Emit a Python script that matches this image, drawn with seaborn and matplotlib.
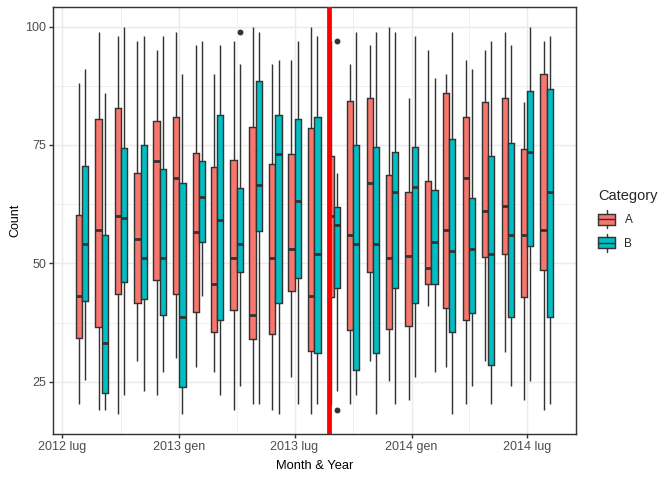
import pandas as pd
import matplotlib
matplotlib.use("Agg")
import matplotlib.pyplot as plt
import matplotlib.dates as mdates
from matplotlib.lines import Line2D
from matplotlib.patches import Patch, Rectangle
from matplotlib.legend_handler import HandlerBase
import seaborn as sns

# months (first day of each month)
months = ["2012-08", "2012-09", "2012-10", "2012-11", "2012-12",
          "2013-01", "2013-02", "2013-03", "2013-04", "2013-05", "2013-06",
          "2013-07", "2013-08", "2013-09", "2013-10", "2013-11", "2013-12",
          "2014-01", "2014-02", "2014-03", "2014-04", "2014-05", "2014-06",
          "2014-07", "2014-08"]
categories = ["A", "B"]

# box stats: whisker low, Q1, median, Q3, whisker high
a_lo  = [20.2, 19.1, 18.1, 29.3, 22.1, 30.1, 28.2, 27.1, 19.1, 20.2, 19.1, 26.1, 18.1,
         20.0, 20.2, 29.3, 25.2, 21.2, 41.1, 28.2, 20.2, 29.3, 31.2, 21.2, 19.1]
a_q1  = [34.2, 36.5, 43.5, 41.6, 46.4, 43.5, 39.7, 35.4, 40.1, 34.0, 35.0, 44.1, 31.4,
         43.0, 35.9, 48.1, 36.1, 36.7, 45.6, 40.5, 38.0, 51.3, 51.9, 43.0, 48.5]
a_med = [43.2, 57.1, 60.1, 55.2, 71.7, 68.1, 56.7, 45.7, 51.2, 39.2, 51.2, 53.1, 43.2,
         60.1, 56.0, 67.0, 51.2, 51.6, 49.1, 57.1, 68.1, 61.1, 62.2, 56.0, 57.1]
a_q3  = [60.3, 80.4, 82.9, 69.0, 80.0, 81.0, 73.4, 70.3, 71.9, 78.9, 70.9, 73.0, 78.5,
         72.6, 84.2, 85.0, 68.6, 65.0, 67.3, 85.9, 81.0, 84.0, 85.0, 74.1, 89.9]
a_hi  = [88.0, 98.9, 98.0, 97.0, 95.0, 98.9, 96.1, 89.9, 97.0, 100.0, 92.1, 93.0, 100.0,
         97.0, 92.1, 96.1, 100.0, 85.0, 95.0, 89.9, 93.0, 95.0, 98.9, 84.0, 97.0]

b_lo  = [25.3, 19.1, 22.1, 23.1, 27.1, 18.1, 43.2, 22.1, 24.2, 20.2, 18.1, 20.2, 20.2,
         23.1, 22.1, 18.1, 20.2, 26.1, 27.1, 18.1, 24.2, 20.2, 24.2, 25.2, 20.2]
b_q1  = [42.0, 22.6, 46.0, 42.4, 39.0, 23.8, 54.6, 38.0, 48.1, 56.8, 41.6, 47.0, 31.0,
         44.9, 27.5, 31.0, 44.7, 41.6, 45.6, 35.4, 39.5, 28.5, 38.6, 53.6, 38.6]
b_med = [54.1, 33.1, 59.6, 51.2, 51.2, 38.7, 64.1, 59.2, 54.1, 66.6, 73.1, 63.2, 52.0,
         58.2, 54.1, 54.1, 65.1, 66.2, 54.6, 52.7, 53.1, 52.0, 56.0, 73.6, 65.1]
b_q3  = [70.5, 55.9, 74.3, 74.9, 70.0, 66.9, 71.7, 81.4, 66.0, 88.5, 81.4, 80.4, 81.0,
         62.0, 74.9, 74.5, 73.6, 74.5, 65.4, 76.2, 63.9, 72.6, 75.5, 86.3, 86.9]
b_hi  = [91.0, 85.9, 100.0, 98.0, 98.0, 89.9, 97.0, 96.1, 92.1, 98.9, 93.0, 97.0, 98.0,
         69.1, 98.9, 98.9, 98.9, 98.0, 89.1, 98.9, 91.0, 97.0, 96.1, 100.0, 98.0]

# outliers (category B only)
out_month = ["2013-04", "2013-09", "2013-09"]
out_value = [98.9, 97.0, 19.0]

event_date = "2013-08-24"
tick_dates = ["2012-07-01", "2013-01-01", "2013-07-01", "2014-01-01", "2014-07-01"]
tick_labels = ["2012 lug", "2013 gen", "2013 lug", "2014 gen", "2014 lug"]
minor_dates = ["2012-10-01", "2013-04-01", "2013-10-01", "2014-04-01"]
colors = ["#F8766D", "#00BFC4"]
LINE = "#333333"

# turn each box's stats into a small sample with exactly those quartiles
stats = {"A": (a_lo, a_q1, a_med, a_q3, a_hi), "B": (b_lo, b_q1, b_med, b_q3, b_hi)}
rows = []
for cat in categories:
    lo, q1, med, q3, hi = stats[cat]
    for i, m in enumerate(months):
        extra = [v for mm, v in zip(out_month, out_value) if mm == m and cat == "B"]
        below = [v for v in extra if v < lo[i]]
        above = [v for v in extra if v > hi[i]]
        vals = [below[0] if below else lo[i], lo[i], q1[i], med[i], med[i], med[i],
                q3[i], hi[i], above[0] if above else hi[i]]
        pos = mdates.date2num(pd.Timestamp(m + "-01"))
        for v in vals:
            rows.append({"pos": pos, "Count": v, "Category": cat})
df = pd.DataFrame(rows)


class BoxKey(HandlerBase):
    # legend key drawn like a tiny boxplot
    def create_artists(self, legend, orig_handle, xdescent, ydescent, width, height,
                       fontsize, trans):
        x0, y0 = -xdescent, -ydescent
        cx = x0 + width / 2
        whisk = Line2D([cx, cx], [y0 - 0.35 * height, y0 + 1.35 * height],
                       color=LINE, lw=1.07, transform=trans)
        rect = Rectangle((x0, y0), width, height, facecolor=orig_handle.get_facecolor(),
                         edgecolor=LINE, lw=1.07, transform=trans)
        med = Line2D([x0, x0 + width], [y0 + height / 2] * 2, color=LINE, lw=1.07,
                     transform=trans)
        return [whisk, rect, med]


sns.set_theme(style="white")
plt.rcParams["font.family"] = ["Liberation Sans", "DejaVu Sans"]

fig, ax = plt.subplots(figsize=(7, 5), dpi=96)
fig.subplots_adjust(left=0.0784, right=0.857, bottom=0.0952, top=0.985)

sns.boxplot(data=df, x="pos", y="Count", hue="Category", hue_order=categories,
            native_scale=True, width=0.7, palette=colors, saturation=1,
            linecolor=LINE, linewidth=1.07, fliersize=3.4, showcaps=False,
            medianprops={"linewidth": 2.1},
            flierprops={"marker": "o", "markerfacecolor": LINE, "markeredgecolor": LINE},
            legend=False, ax=ax)

ax.axvline(mdates.date2num(pd.Timestamp(event_date)), color="red", lw=3.6, zorder=10)

ax.set_xlim(mdates.date2num(pd.Timestamp("2012-06-16")), mdates.date2num(pd.Timestamp("2014-09-16")))
ax.set_ylim(13.9, 104.1)
ax.set_xticks([mdates.date2num(pd.Timestamp(d)) for d in tick_dates])
ax.set_xticklabels(tick_labels)
ax.set_xticks([mdates.date2num(pd.Timestamp(d)) for d in minor_dates], minor=True)
ax.set_yticks([25, 50, 75, 100])
ax.set_yticks([37.5, 62.5, 87.5], minor=True)

ax.grid(which="major", color="#EBEBEB", lw=1.07)
ax.grid(which="minor", color="#EBEBEB", lw=0.55)
ax.set_axisbelow(True)
ax.tick_params(which="minor", length=0)
ax.tick_params(which="major", length=2.75, width=1.07, color=LINE,
               labelcolor="#4D4D4D", labelsize=9.4, pad=2.2, bottom=True, left=True)
for s in ax.spines.values():
    s.set_color(LINE)
    s.set_linewidth(1.07)

ax.set_xlabel("Month & Year", fontsize=9.7, color="black", labelpad=5.5)
ax.set_ylabel("Count", fontsize=9.4, color="black", labelpad=2.5)

handles = [Patch(facecolor=c) for c in colors]
ax.legend(handles, categories, handler_map={Patch: BoxKey()},
          title="Category", loc="upper left", bbox_to_anchor=(0.89, 0.607),
          bbox_transform=fig.transFigure, frameon=False, fontsize=8.8,
          title_fontsize=11, handlelength=1.45, handleheight=1.05, labelspacing=0.95,
          handletextpad=0.8, borderpad=0, borderaxespad=0, alignment="left")

fig.savefig("out.png", dpi=96)
